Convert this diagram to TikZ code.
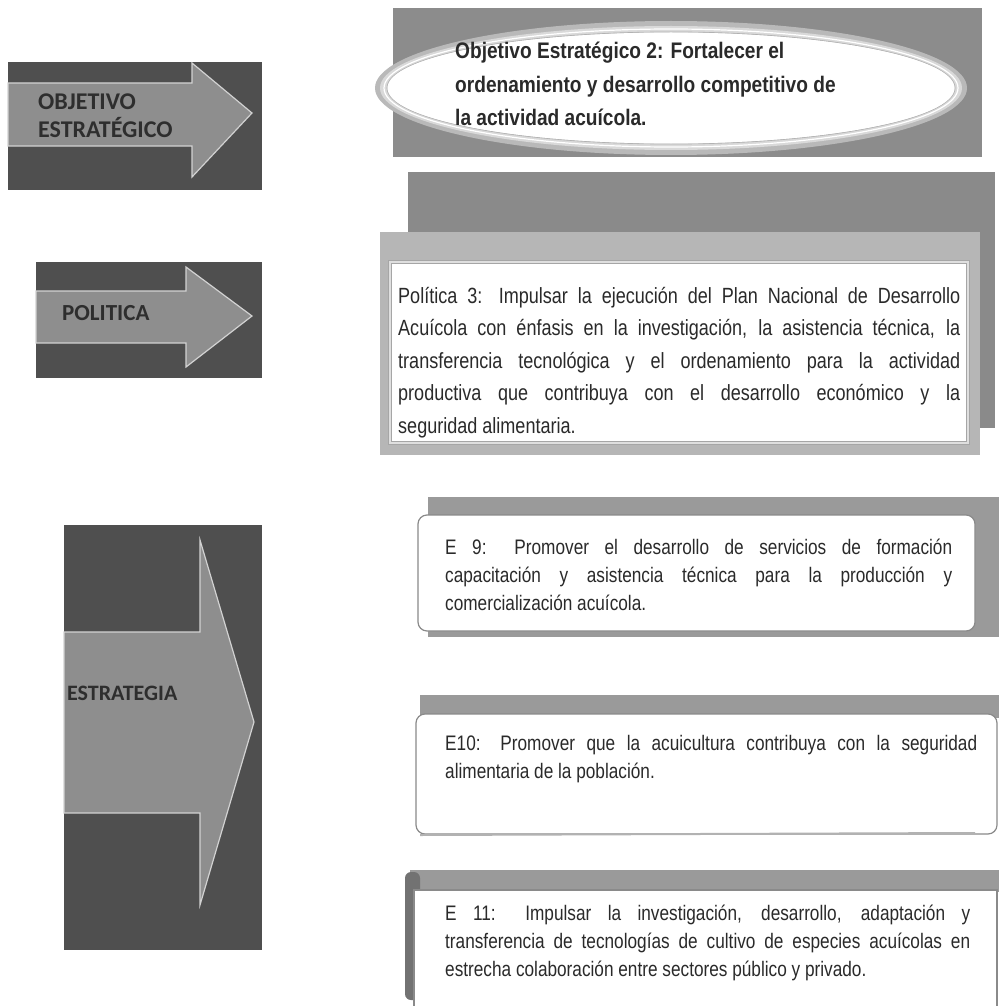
\documentclass[tikz,border=0pt]{standalone}
\usepackage{fontspec}
\setmainfont{Liberation Sans}
\newfontfamily\lblfont{Carlito}
\newfontfamily\objfont[FakeStretch=0.85]{Liberation Sans}
\newfontfamily\narrowfont[FakeStretch=0.82]{Liberation Sans}
\definecolor{panelDark}{HTML}{4F4F4F}
\definecolor{arrowFill}{HTML}{8E8E8E}
\definecolor{arrowEdge}{HTML}{D2D2D2}
\definecolor{lblText}{HTML}{2E2E2E}
\definecolor{topGray}{HTML}{8C8C8C}
\definecolor{backGray}{HTML}{8A8A8A}
\definecolor{frameGray}{HTML}{B6B6B6}
\definecolor{bandGray}{HTML}{9A9A9A}
\definecolor{edgeGray}{HTML}{8A8A8A}
\definecolor{txt}{HTML}{2A2A2A}
\tikzset{
  darkpanel/.style={fill=panelDark, draw=none},
  arrowshape/.style={fill=arrowFill, draw=arrowEdge, line width=1.2pt, line join=miter},
  lbl/.style={anchor=base west, inner sep=0pt, text=lblText},
  para/.style={anchor=base west, inner sep=0pt, text=txt},
  band/.style={fill=bandGray, draw=none},
  ebox/.style={fill=white, draw=edgeGray, line width=1.2pt, rounded corners=9pt},
}
\newcommand{\justpar}[2]{\parbox[t]{#1}{\tolerance=10000\hyphenpenalty=10000\emergencystretch=20pt #2}}
\begin{document}
\begin{tikzpicture}[x=1pt,y=-1pt]
\useasboundingbox (0,0) rectangle (999,1006);
\fill[white] (0,0) rectangle (999,1006);

% ---------- left panels ----------
\path[darkpanel] (8,62) rectangle (262,190);
\draw[arrowshape] (8,83) -- (192,83) -- (192,63) -- (252,113) -- (192,177) -- (192,146) -- (8,146) -- cycle;
\node[lbl, font=\lblfont\bfseries\fontsize{24}{28}\selectfont] (obj1) at (38,110) {OBJETIVO};
\node[lbl, font=\lblfont\bfseries\fontsize{24}{28}\selectfont] (obj2) at (38,137) {ESTRATÉGICO};

\path[darkpanel] (36,262) rectangle (262,378);
\draw[arrowshape] (36,291) -- (186,291) -- (186,267) -- (252,316) -- (186,367) -- (186,343) -- (36,343) -- cycle;
\node[lbl, font=\lblfont\bfseries\fontsize{23}{27}\selectfont] (pol) at (62,320) {POLITICA};

\path[darkpanel] (64,525) rectangle (262,950);
\draw[arrowshape] (64,632) -- (200,632) -- (200,540) -- (254,722) -- (200,905) -- (200,813) -- (64,813) -- cycle;
\node[lbl, font=\lblfont\bfseries\fontsize{22}{26}\selectfont] (est) at (67,700) {ESTRATEGIA};

% ---------- objective ----------
\fill[topGray] (393,8) rectangle (982,157);
\fill[gray!55] (671,88) ellipse [x radius=296pt, y radius=67pt];
\fill[gray!30] (671,88) ellipse [x radius=291pt, y radius=62pt];
\draw[white, line width=1.2pt] (671,88) ellipse [x radius=287pt, y radius=59pt];
\draw[gray!60, line width=0.8pt] (671,88) ellipse [x radius=284pt, y radius=56pt];
\fill[white] (671,88) ellipse [x radius=283.5pt, y radius=55.5pt];
\node[para] (objtext) at (455,59) {\parbox[t]{470pt}{\raggedright\objfont\bfseries\fontsize{22.5}{33.5}\selectfont
Objetivo Estratégico 2: Fortalecer el\\
ordenamiento y desarrollo competitivo de\\
la actividad acuícola.}};

% ---------- politica ----------
\fill[backGray] (408,172) rectangle (995,428);
\fill[frameGray] (380,232) rectangle (980,455);
\draw[fill=white, draw=gray!70, double=gray!25, double distance=2pt, line width=0.8pt] (390,262) rectangle (968,443);
\node[para] (poltext) at (398,303) {\justpar{562pt}{\narrowfont\fontsize{22}{32.5}\selectfont
Política 3: Impulsar la ejecución del Plan Nacional de Desarrollo\linebreak
Acuícola con énfasis en la investigación, la asistencia técnica, la\linebreak
transferencia tecnológica y el ordenamiento para la actividad\linebreak
productiva que contribuya con el desarrollo económico y la\linebreak
seguridad alimentaria.}};

% ---------- E 9 ----------
\fill[band] (428,497) rectangle (999,637);
\path[ebox] (418,515) rectangle (975,631);
\node[para] (e9) at (445,554.5) {\justpar{507pt}{\narrowfont\fontsize{21}{28}\selectfont
E 9: Promover el desarrollo de servicios de formación\linebreak
capacitación y asistencia técnica para la producción y\linebreak
comercialización acuícola.}};

% ---------- E 10 ----------
\fill[band] (420,695) rectangle (999,718);
\path[ebox] (416,714) rectangle (997,834);
\draw[gray!60, line width=2pt] (420,835) -- (975,833);
\node[para] (e10) at (445,750.5) {\justpar{532pt}{\narrowfont\fontsize{21}{28}\selectfont
E10: Promover que la acuicultura contribuya con la seguridad\linebreak
alimentaria de la población.}};

% ---------- E 11 ----------
\fill[band] (410,870) rectangle (999,892);
\fill[panelDark!80, rounded corners=6pt] (405,872) rectangle (420,1000);
\path[fill=white, draw=edgeGray, line width=1.2pt] (414,890) rectangle (997,1010);
\node[para] (e11) at (445,920.5) {\justpar{525pt}{\narrowfont\fontsize{21}{28}\selectfont
E 11: Impulsar la investigación, desarrollo, adaptación y\linebreak
transferencia de tecnologías de cultivo de especies acuícolas en\linebreak
estrecha colaboración entre sectores público y privado.}};
\end{tikzpicture}
\end{document}
